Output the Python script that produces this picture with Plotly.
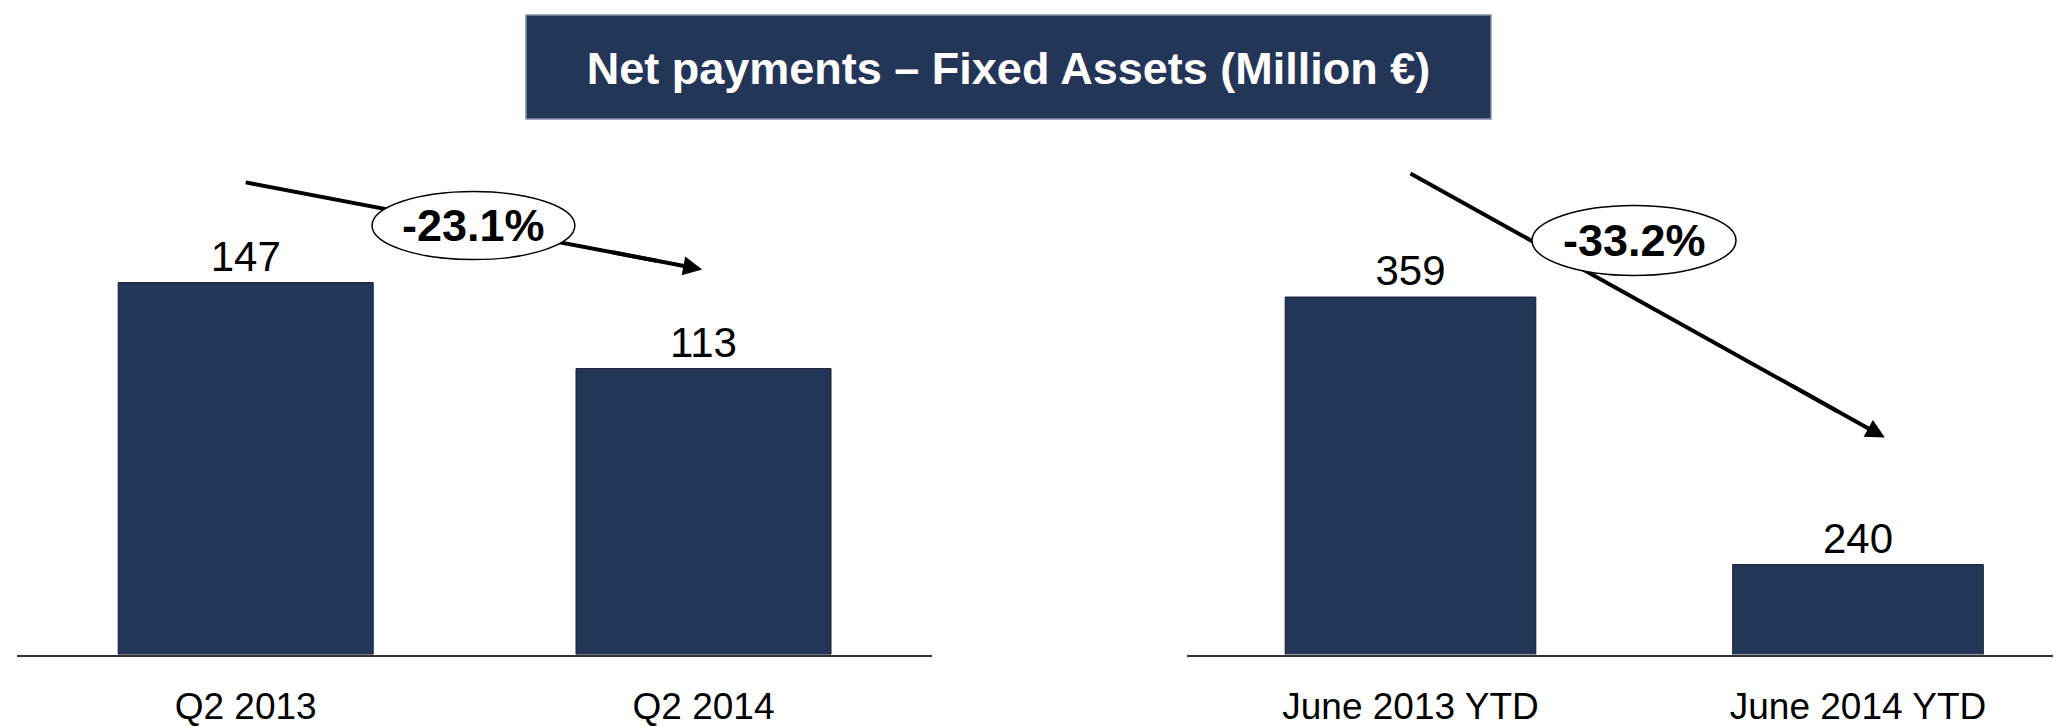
import plotly.graph_objects as go

# ---------------- data ----------------
categories_left = ["Q2 2013", "Q2 2014"]
values_left = [147, 113]
categories_right = ["June 2013 YTD", "June 2014 YTD"]
values_right = [359, 240]
change_labels = ["-23.1%", "-33.2%"]
title_text = "Net payments – Fixed Assets (Million €)"

# ---------------- style ----------------
PAGE_W, PAGE_H = 2061, 727
OFF = 8                       # default page (body) margin of the html page
W, H = PAGE_W - OFF, PAGE_H - OFF
NAVY = "#243658"
FONT = "Liberation Sans, Arial, sans-serif"

fig = go.Figure()

fig.add_trace(go.Bar(
    x=categories_left, y=values_left, xaxis="x", yaxis="y", width=0.557,
    marker=dict(color=NAVY, line=dict(color="#141c30", width=1)),
    text=[str(v) for v in values_left], textposition="outside",
    textfont=dict(size=42, color="black", family=FONT), cliponaxis=False,
    hoverinfo="skip",
))
fig.add_trace(go.Bar(
    x=categories_right, y=values_right, xaxis="x2", yaxis="y2", width=0.56,
    marker=dict(color=NAVY, line=dict(color="#141c30", width=1)),
    text=[str(v) for v in values_right], textposition="outside",
    textfont=dict(size=42, color="black", family=FONT), cliponaxis=False,
    hoverinfo="skip",
))

# screen-pixel helpers for layout (domains)
def px_x(p):
    return (p - OFF) / W

def px_y(p):
    return 1 - (p - OFF) / H

axis_common = dict(
    type="category", showline=True, linecolor="#333333", linewidth=2,
    ticks="", showgrid=False, zeroline=False, fixedrange=True,
    tickfont=dict(size=37, color="black", family=FONT),
    ticklabelstandoff=18, automargin=False,
)
yaxis_common = dict(showgrid=False, zeroline=False, showticklabels=False,
                    showline=False, ticks="", fixedrange=True, automargin=False)

y_bottom_px, y_top_px = 654.5, 100
left_scale = 2.53      # px per unit
right_scale = 2.248
right_base = 200

fig.update_layout(
    width=W, height=H,
    margin=dict(l=0, r=0, t=0, b=0, pad=0, autoexpand=False),
    paper_bgcolor="white", plot_bgcolor="white",
    showlegend=False,
    font=dict(family=FONT, color="black"),
    title=dict(
        text="<b>" + title_text + "</b>",
        font=dict(size=45, color="white", family=FONT),
        x=(1008.5 - OFF) / W, y=1 - (68 - OFF) / H, xref="container", yref="container",
        xanchor="center", yanchor="middle",
    ),
    xaxis=dict(domain=[px_x(16.8), px_x(932.4)], range=[-0.5, 1.5], anchor="y", **axis_common),
    yaxis=dict(domain=[px_y(y_bottom_px), px_y(y_top_px)],
               range=[0, (y_bottom_px - y_top_px) / left_scale], anchor="x", **yaxis_common),
    xaxis2=dict(domain=[px_x(1186.75), 1.0],
                range=[-0.5, (PAGE_W - 1186.75) / 447.5 - 0.5], anchor="y2", **axis_common),
    yaxis2=dict(domain=[px_y(y_bottom_px), px_y(y_top_px)],
                range=[right_base, right_base + (y_bottom_px - y_top_px) / right_scale],
                anchor="x2", **yaxis_common),
)

# title box
shapes = [dict(type="rect", xref="paper", yref="paper",
               x0=px_x(526), x1=px_x(1491), y0=px_y(119), y1=px_y(15),
               fillcolor=NAVY, line=dict(color="#8390a8", width=1.5), layer="below")]

# trend arrows & change bubbles (axis coordinates)
panels = [
    dict(xr="x", yr="y", start=(0.0, 186.6), tip=(0.997, 152.2),
         ell=(0.276, 0.719, 156.1, 183.0), label=change_labels[0]),
    dict(xr="x2", yr="y2", start=(0.0, 414.0), tip=(1.06, 296.5),
         ell=(0.2715, 0.7274, 368.6, 399.7), label=change_labels[1]),
]

annotations = []
def along(s, t, f):
    return (s[0] + f * (t[0] - s[0]), s[1] + f * (t[1] - s[1]))

for p in panels:
    s, t = p["start"], p["tip"]
    e = along(s, t, 0.9)
    shapes.append(dict(type="line", xref=p["xr"], yref=p["yr"],
                       x0=s[0], y0=s[1], x1=e[0], y1=e[1],
                       line=dict(color="black", width=4), layer="above"))
for p in panels:
    x0, x1, y0, y1 = p["ell"]
    shapes.append(dict(type="circle", xref=p["xr"], yref=p["yr"],
                       x0=x0, x1=x1, y0=y0, y1=y1, fillcolor="white",
                       line=dict(color="black", width=1.5), layer="above"))
    s, t = p["start"], p["tip"]
    m = along(s, t, 0.8)
    annotations.append(dict(xref=p["xr"], yref=p["yr"], axref=p["xr"], ayref=p["yr"],
                            x=t[0], y=t[1], ax=m[0], ay=m[1], text="",
                            showarrow=True, arrowhead=2, arrowsize=0.95, arrowwidth=4,
                            arrowcolor="black", standoff=0, startstandoff=0))
    annotations.append(dict(xref=p["xr"], yref=p["yr"], x=(x0 + x1) / 2, y=(y0 + y1) / 2,
                            text="<b>" + p["label"] + "</b>", showarrow=False,
                            font=dict(size=45, color="black", family=FONT),
                            xanchor="center", yanchor="middle"))

fig.update_layout(shapes=shapes, annotations=annotations)

fig.write_html("out.html", config={"displayModeBar": False})
